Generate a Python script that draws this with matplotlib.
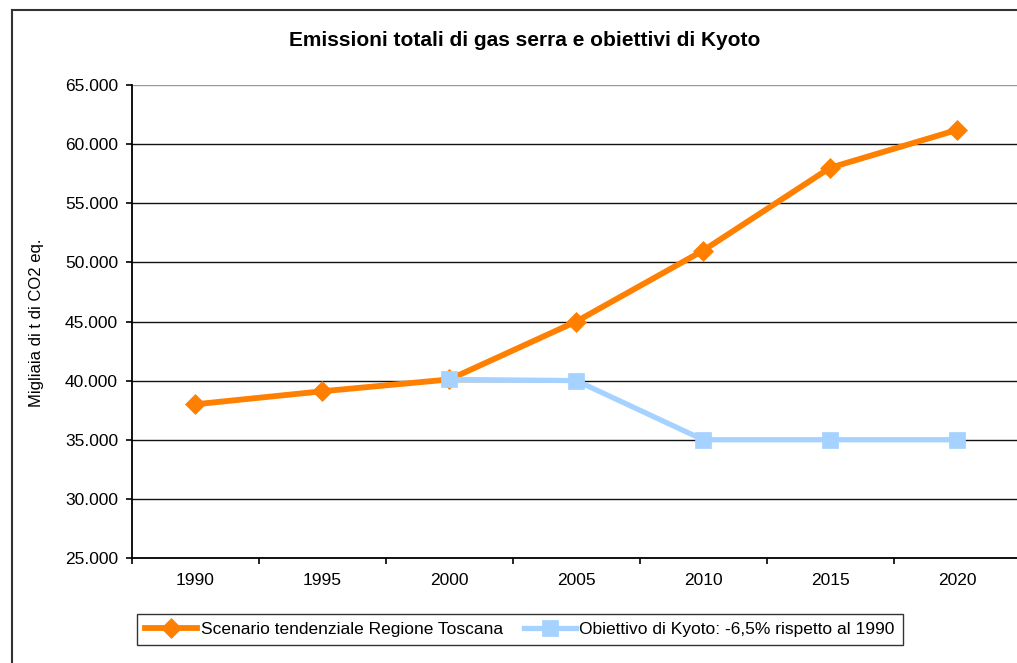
import numpy as np
import matplotlib
matplotlib.use("Agg")
import matplotlib.pyplot as plt
from matplotlib.lines import Line2D
from matplotlib.ticker import FuncFormatter

plt.rcParams['font.family'] = ['Liberation Sans', 'DejaVu Sans']

# data
years = ["1990", "1995", "2000", "2005", "2010", "2015", "2020"]
scenario = [38000, 39100, 40100, 45000, 51000, 58000, 61200]
kyoto_years = ["2000", "2005", "2010", "2015", "2020"]
kyoto = [40100, 40000, 35000, 35000, 35000]

label_scenario = "Scenario tendenziale Regione Toscana"
label_kyoto = "Obiettivo di Kyoto: -6,5% rispetto al 1990"

orange = "#FF8000"
lightblue = "#A6D2FF"

W, H = 1017, 663
fig = plt.figure(figsize=(W / 100, H / 100), dpi=100)

# plot area (right edge falls just outside the picture, as in the reference)
ax = fig.add_axes([132 / W, (H - 558) / H, (1020.5 - 132) / W, 473 / H])

x = np.arange(len(years))
kx = [years.index(y) for y in kyoto_years]

ax.plot(x, scenario, color=orange, lw=4.2, marker='D', ms=10,
        mec=orange, mew=0.5, label=label_scenario, zorder=3)
ax.plot(kx, kyoto, color=lightblue, lw=3.8, marker='s', ms=11.5,
        mec=lightblue, mew=0.5, label=label_kyoto, zorder=4)

ax.set_xlim(-0.5, len(years) - 0.5)
ax.set_ylim(25000, 65000)
ax.set_yticks(np.arange(25000, 65001, 5000))
ax.yaxis.set_major_formatter(FuncFormatter(lambda v, p: f"{int(v):,}".replace(",", ".")))

ax.set_xticks(x)
ax.set_xticklabels(years)
ax.set_xticks(np.arange(-0.5, len(years)), minor=True)
ax.tick_params(axis='x', which='major', length=0, pad=11, labelsize=12.5)
ax.tick_params(axis='x', which='minor', length=4, width=1.2, direction='out')
ax.tick_params(axis='y', length=4, width=1.2, direction='out', pad=6, labelsize=12.5)

ax.yaxis.grid(True, color='#111111', lw=1.0)
ax.get_ygridlines()[-1].set_color('#999999')
ax.set_axisbelow(True)

for s in ['top', 'right']:
    ax.spines[s].set_visible(False)
for s in ['left', 'bottom']:
    ax.spines[s].set_color('black')
    ax.spines[s].set_linewidth(1.3)

fig.text(525 / W, 1 - 41 / H, "Emissioni totali di gas serra e obiettivi di Kyoto",
         ha='center', va='center', fontsize=15, fontweight='bold')
fig.text(37 / W, 1 - 323 / H, "Migliaia di t di CO2 eq.", rotation=90,
         ha='center', va='center', fontsize=12)

leg = fig.legend(loc='center', bbox_to_anchor=(520 / W, 1 - 629.5 / H), ncol=2,
                 fontsize=12.5, frameon=True, fancybox=False, numpoints=1,
                 handlelength=3, handletextpad=0.2, columnspacing=1.2,
                 borderpad=0.45, borderaxespad=0)
leg.get_frame().set_edgecolor('black')
leg.get_frame().set_linewidth(1.0)

# outer chart frame (left and top edges visible)
fig.add_artist(Line2D([12 / W, 12 / W], [0, 1 - 10 / H], color='#333333', lw=1.5))
fig.add_artist(Line2D([12 / W, 1], [1 - 10 / H, 1 - 10 / H], color='#333333', lw=1.5))

fig.savefig("out.png", dpi=100)
